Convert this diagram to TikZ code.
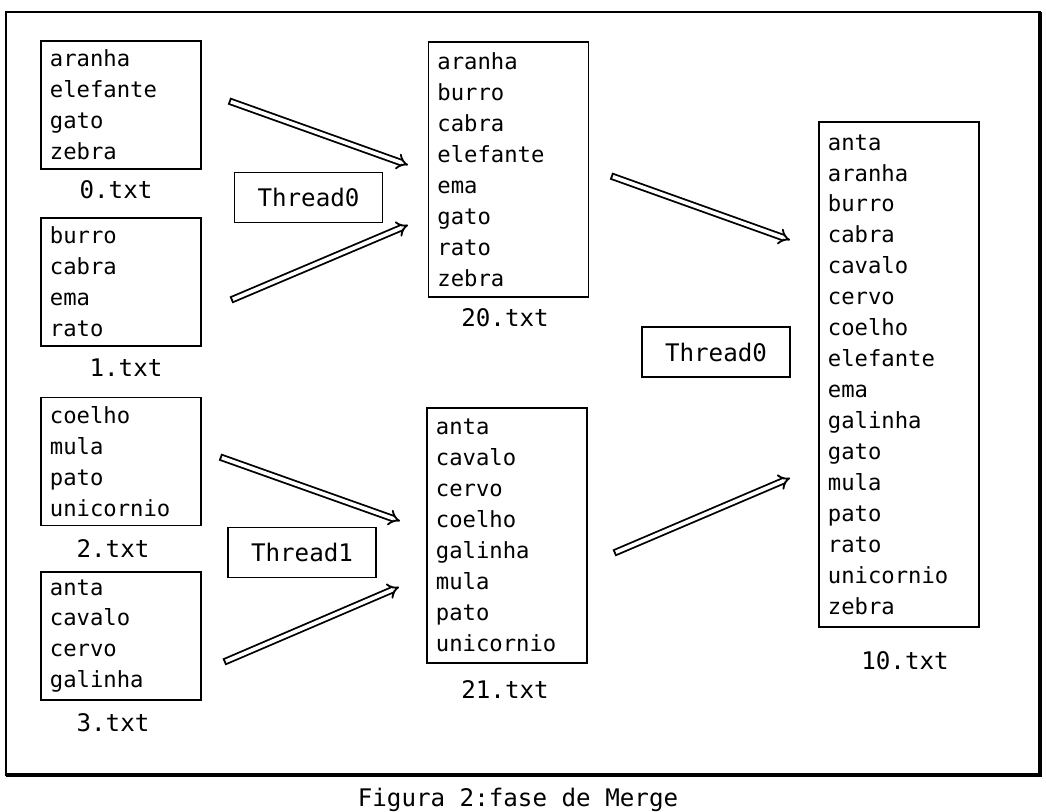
\documentclass[tikz,border=0pt]{standalone}
\usepackage{fontspec}
\setmonofont{DejaVu Sans Mono}
\usetikzlibrary{arrows.meta,positioning}

\tikzset{
    listbox/.style={draw, line width=1pt, align=left, text width=3.55cm,
        inner xsep=0.225cm, inner ysep=0pt},
    biglabel/.style={font=\ttfamily\fontsize{17.2}{20}\selectfont},
    threadbox/.style={draw, line width=1pt, biglabel, minimum width=3.7cm, minimum height=1.25cm},
    fatarrow/.style={double, double distance=2.6pt, line width=1.3pt,
        {Bar[width=5.2pt, line width=1.3pt]}-{Implies}},
}

\begin{document}
\begin{tikzpicture}[x=0.025cm, y=-0.025cm,
        every node/.style={font=\ttfamily\fontsize{15.8}{22}\selectfont}]

        \useasboundingbox (0,0) rectangle (1046,811);

        % outer frame
        \draw[line width=1pt] (6,12) rectangle (1040,775);
        \draw[line width=2.2pt] (1040,12) -- (1040,775) -- (6,775);

        % input files
        \node[listbox, minimum height=3.2cm] (f0) at (121,105) {aranha\\elefante\\gato\\zebra};
        \node[listbox, minimum height=3.2cm] (f1) at (121,282) {burro\\cabra\\ema\\rato};
        \node[listbox, minimum height=3.2cm] (f2) at (121,461.5) {coelho\\mula\\pato\\unicornio};
        \node[listbox, minimum height=3.2cm] (f3) at (121,636) {anta\\cavalo\\cervo\\galinha};
        \node[biglabel] (l0) at (116,190) {0.txt};
        \node[biglabel] (l1) at (126,368) {1.txt};
        \node[biglabel] (l2) at (113,549) {2.txt};
        \node[biglabel] (l3) at (113,723) {3.txt};

        % first merge
        \node[listbox, minimum height=6.375cm] (f20) at (508.5,169.5)
            {aranha\\burro\\cabra\\elefante\\ema\\gato\\rato\\zebra};
        \node[listbox, minimum height=6.375cm] (f21) at (507,535.5)
            {anta\\cavalo\\cervo\\coelho\\galinha\\mula\\pato\\unicornio};
        \node[biglabel] (l20) at (505,318) {20.txt};
        \node[biglabel] (l21) at (505,690) {21.txt};

        % final merge
        \node[listbox, minimum height=12.625cm] (f10) at (899,374.5)
            {anta\\aranha\\burro\\cabra\\cavalo\\cervo\\coelho\\elefante\\ema\\galinha\\gato\\mula\\pato\\rato\\unicornio\\zebra};
        \node[biglabel] (l10) at (905,661) {10.txt};

        % threads
        \node[threadbox] (t0) at (308.5,197.5) {Thread0};
        \node[threadbox] (t1) at (302,552.5) {Thread1};
        \node[threadbox] (t2) at (716,352) {Thread0};

        \coordinate (a1) at (229,101);  \coordinate (b1) at (408,165);
        \coordinate (a2) at (231,300);  \coordinate (b2) at (408,225);
        \coordinate (a3) at (220,457);  \coordinate (b3) at (400,521);
        \coordinate (a4) at (224,662);  \coordinate (b4) at (399,587);
        \coordinate (a5) at (611,176);  \coordinate (b5) at (790,240);
        \coordinate (a6) at (614,553);  \coordinate (b6) at (790,478);

        \foreach \i in {1,...,6}{
            \draw[fatarrow] (a\i) -- (b\i);
        }

        \node[biglabel, anchor=base] (cap) at (518,806) {Figura 2:fase de Merge};

    \end{tikzpicture}
\end{document}
